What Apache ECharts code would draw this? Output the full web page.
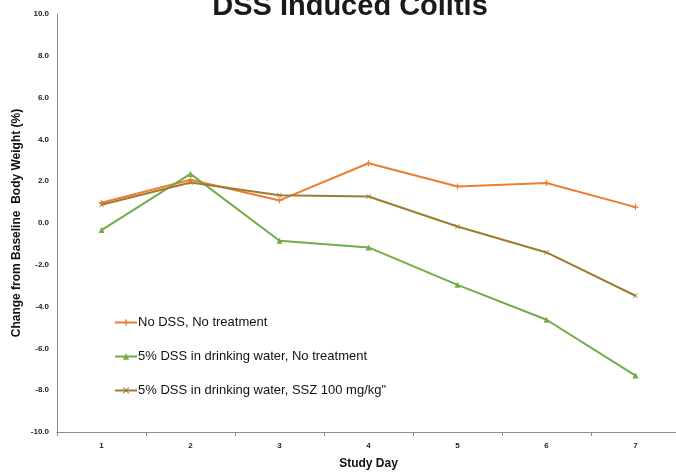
<!DOCTYPE html>
<html>
<head>
<meta charset="utf-8">
<script src="https://cdn.jsdelivr.net/npm/echarts@6/dist/echarts.min.js"></script>
<style>
  html, body { margin: 0; padding: 0; background: #fff; }
  #chart { width: 676px; height: 472px; }
</style>
</head>
<body>
<div id="chart"></div>
<script>
// study days and weight change (%)
var days = ["1", "2", "3", "4", "5", "6", "7"];
var noDss = [0.97, 2.07, 1.08, 2.86, 1.75, 1.91, 0.76];
var dssNoTreat = [-0.34, 2.35, -0.85, -1.17, -2.96, -4.63, -7.3];
var dssSsz = [0.87, 1.94, 1.33, 1.27, -0.17, -1.41, -3.48];
var seriesNames = [
  "No DSS, No treatment",
  "5% DSS in drinking water, No treatment",
  "5% DSS in drinking water, SSZ 100 mg/kg\""
];

var plusPath = "path://M4,0 L6,0 L6,4 L10,4 L10,6 L6,6 L6,10 L4,10 L4,6 L0,6 L0,4 L4,4 Z";
var xPath = "path://M0,1 L1,0 L5,4 L9,0 L10,1 L6,5 L10,9 L9,10 L5,6 L1,10 L0,9 L4,5 Z";

var chart = echarts.init(document.getElementById("chart"));
var font = "Liberation Sans";

function line(name, data, color, symbol, size) {
  return {
    name: name,
    type: "line",
    data: data,
    symbol: symbol,
    symbolSize: size,
    lineStyle: { color: color, width: 2 },
    itemStyle: { color: color },
    emphasis: { disabled: true }
  };
}

var option = {
  animation: false,
  title: {
    text: "DSS Induced Colitis",
    left: 345,
    textAlign: "center",
    top: -13,
    textStyle: { fontFamily: font, fontSize: 29, fontWeight: "bold", color: "#1a1a1a" }
  },
  legend: {
    orient: "vertical",
    left: 114,
    top: 316,
    padding: 0,
    itemWidth: 22,
    itemHeight: 8,
    itemGap: 21,
    textStyle: { fontFamily: font, fontSize: 13, color: "#111", padding: [0, 0, 0, -4] },
    data: seriesNames
  },
  grid: { left: 57, right: -4, top: 14, bottom: 40, outerBoundsMode: "none" },
  xAxis: {
    type: "category",
    data: days,
    boundaryGap: true,
    name: "Study Day",
    nameLocation: "middle",
    nameGap: 26,
    nameMoveOverlap: false,
    nameTextStyle: { fontFamily: font, fontSize: 12, fontWeight: "bold", color: "#111" },
    axisLine: { onZero: false, lineStyle: { color: "#8c8c8c", width: 1 } },
    axisTick: { show: true, length: 4, lineStyle: { color: "#8c8c8c" } },
    axisLabel: { fontFamily: font, fontSize: 8, fontWeight: "bold", color: "#222", margin: 10 }
  },
  yAxis: {
    type: "value",
    min: -10,
    max: 10,
    interval: 2,
    name: "Change from Baseline  Body Weight (%)",
    nameLocation: "middle",
    nameGap: 34,
    nameMoveOverlap: false,
    nameTextStyle: { fontFamily: font, fontSize: 12, fontWeight: "bold", color: "#111" },
    axisLine: { show: true, lineStyle: { color: "#8c8c8c", width: 1 } },
    axisTick: { show: false },
    splitLine: { show: false },
    axisLabel: {
      fontFamily: font, fontSize: 8, fontWeight: "bold", color: "#222", margin: 8,
      formatter: function (v) { return v.toFixed(1); }
    }
  },
  series: [
    line(seriesNames[0], noDss, "#ED7D31", plusPath, 6),
    line(seriesNames[1], dssNoTreat, "#70AD47", "triangle", 6),
    line(seriesNames[2], dssSsz, "#9E7B2F", xPath, 5)
  ]
};
chart.setOption(option);
</script>
</body>
</html>
